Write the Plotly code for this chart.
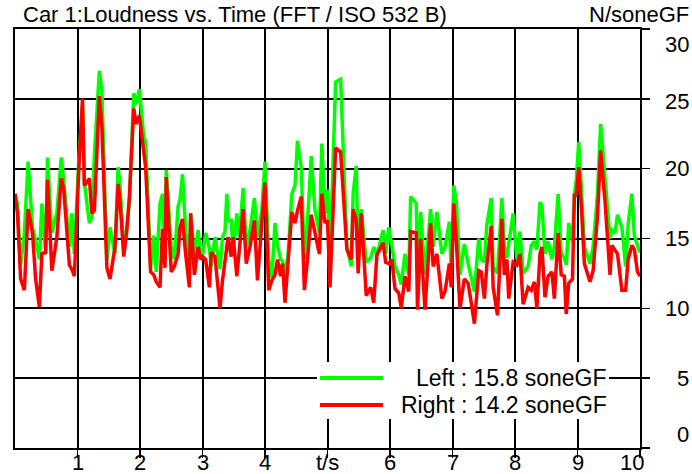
import plotly.graph_objects as go

# ---- data ----
t = [0.00,0.04,0.09,0.15,0.21,0.28,0.33,0.39,0.43,0.49,0.52,0.59,0.67,0.74,0.78,0.87,0.91,0.95,
     1.02,1.08,1.11,1.19,1.23,1.27,1.35,1.39,1.47,1.52,1.60,1.65,1.68,1.74,1.79,1.83,1.90,1.94,1.99,
     2.06,2.09,2.17,2.22,2.26,2.32,2.36,2.40,2.42,2.50,2.55,2.61,2.64,2.68,2.73,2.79,2.81,2.87,2.93,2.97,
     3.00,3.05,3.11,3.14,3.20,3.28,3.32,3.36,3.39,3.41,3.46,3.49,3.55,3.59,3.65,3.70,3.76,3.83,3.88,3.95,
     4.00,4.06,4.11,4.16,4.20,4.25,4.28,4.32,4.37,4.43,4.48,4.52,4.58,4.63,4.68,4.74,4.80,4.87,4.91,4.96,
     5.00,5.04,5.13,5.21,5.31,5.38,5.41,5.46,5.49,5.54,5.62,5.69,5.74,5.79,5.89,5.93,5.98,
     6.03,6.08,6.14,6.18,6.24,6.30,6.33,6.42,6.44,6.49,6.56,6.65,6.69,6.75,6.83,6.88,6.95,6.98,
     7.02,7.06,7.12,7.19,7.25,7.30,7.35,7.42,7.46,7.51,7.55,7.62,7.65,7.72,7.79,7.83,7.87,7.90,7.97,
     8.03,8.08,8.13,8.21,8.26,8.31,8.35,8.40,8.43,8.48,8.53,8.59,8.63,8.69,8.74,8.79,8.82,8.86,8.92,8.95,8.98,
     9.02,9.06,9.11,9.20,9.25,9.32,9.37,9.44,9.52,9.55,9.60,9.64,9.71,9.77,9.81,9.87,9.91,9.96,10.00]

left = [18.2,17.5,13.1,15.4,20.5,15.8,14.9,13.5,17.5,14.0,20.8,15.4,16.8,20.8,19.2,14.4,16.8,13.9,
        20.6,24.5,19.0,16.1,16.5,21.0,27.0,25.6,13.4,15.8,13.9,20.1,18.9,14.3,15.8,17.5,25.4,24.6,25.7,
        22.3,21.9,12.9,15.2,12.6,17.5,18.2,13.4,19.9,14.4,13.5,17.3,17.8,19.6,15.6,13.0,16.8,13.8,15.6,13.7,
        13.7,15.4,14.3,13.0,15.1,12.8,15.1,15.5,18.2,16.3,16.3,14.0,16.8,15.1,18.6,14.4,15.6,17.9,15.1,17.1,
        20.5,13.5,12.2,16.1,14.5,13.5,13.4,12.3,13.9,18.2,18.8,22.0,20.1,13.5,16.1,20.9,17.0,15.4,21.8,16.8,
        18.5,13.5,26.2,26.4,14.4,13.0,18.2,20.2,13.8,17.1,13.3,13.6,14.4,13.8,15.6,13.9,15.8,
        14.5,13.0,12.4,11.7,13.9,12.4,18.0,17.5,12.5,16.9,12.4,17.1,14.4,16.9,13.9,14.4,16.2,12.4,
        18.8,17.7,12.4,14.6,13.2,12.1,11.2,15.0,13.5,13.3,16.0,17.9,13.0,12.5,17.9,14.4,13.6,14.6,16.8,
        13.5,15.5,12.5,13.0,14.5,14.8,14.2,17.6,17.4,13.9,14.8,13.5,14.4,18.2,13.9,13.6,13.1,16.1,14.8,18.1,19.2,
        21.9,18.8,14.4,13.2,14.4,18.2,23.2,19.4,15.0,15.6,15.4,16.7,15.8,13.0,16.0,18.2,15.2,14.5,14.0]

right = [18.2,16.8,12.1,11.3,17.1,15.4,12.1,10.1,13.9,14.0,19.2,12.7,15.1,19.3,18.5,13.1,12.8,12.3,
         19.9,25.0,18.8,19.3,16.8,17.0,25.2,23.0,12.9,12.1,14.4,18.9,17.7,13.7,15.6,18.0,24.3,23.2,23.8,
         21.2,20.1,12.6,12.4,11.9,11.5,15.7,12.9,19.4,12.6,13.0,13.9,15.8,16.4,13.9,11.5,16.8,12.4,14.4,13.5,
         13.7,13.5,11.5,14.0,13.7,10.0,12.0,13.2,14.5,15.1,13.7,15.1,12.3,14.4,17.1,13.2,14.4,16.3,12.0,16.1,
         19.0,11.3,12.0,12.4,13.5,12.3,13.2,10.4,13.5,16.9,16.1,17.0,18.0,11.3,13.5,16.7,15.4,13.9,18.2,16.1,
         16.3,11.5,21.5,21.2,14.2,13.5,17.1,16.3,12.5,16.8,10.9,11.5,10.4,13.8,14.7,13.3,13.2,
         13.5,11.4,11.1,10.0,12.3,11.2,15.5,15.4,9.9,15.0,9.9,16.1,13.0,13.9,10.7,11.2,13.2,11.5,
         17.5,14.9,10.0,12.1,11.8,10.4,8.9,12.7,12.6,10.7,13.1,15.9,11.5,9.5,16.4,12.4,13.5,10.7,13.3,
         13.1,13.9,10.3,11.5,11.3,11.9,10.0,13.9,14.4,10.8,12.3,12.6,10.7,15.4,12.4,12.3,9.6,11.8,12.1,18.1,18.1,
         20.1,17.4,13.2,11.9,12.7,16.6,21.3,17.7,12.4,14.5,14.2,13.9,11.3,11.3,13.5,14.5,14.2,12.6,12.3]

x_tick_vals = [1, 2, 3, 4, 5, 6, 7, 8, 9, 10]
x_tick_text = ["1", "2", "3", "4", "t/s", "6", "7", "8", "9", "10"]
y_tick_vals = [0, 5, 10, 15, 20, 25, 30]
legend_text = ["Left : 15.8 soneGF", "Right : 14.2 soneGF"]
title_text = "Car 1:Loudness vs. Time (FFT / ISO 532 B)"
unit_text = "N/soneGF"

FONT = "Liberation Sans, Arial, sans-serif"
W, H = 692, 474
L, R, T, B = 15, 52, 29, 26
PW, PH = W - L - R, H - T - B

def px_x(p):  # pixel -> paper x
    return (p - L) / PW

def px_y(p):  # pixel -> paper y
    return (H - B - p) / PH

fig = go.Figure()
fig.add_trace(go.Scatter(x=t, y=left, mode="lines", line=dict(color="#00ff00", width=3.5),
                         name=legend_text[0], showlegend=False))
fig.add_trace(go.Scatter(x=t, y=right, mode="lines", line=dict(color="#ff0000", width=3.5),
                         name=legend_text[1], showlegend=False))

annotations = []
# x tick labels
for v, s in zip(x_tick_vals, x_tick_text):
    annotations.append(dict(x=v, xref="x", y=px_y(462), yref="paper", text=s, showarrow=False,
                            xanchor="right" if v == 10 else "center", xshift=6 if v == 10 else 0,
                            yanchor="middle", font=dict(family=FONT, size=22, color="black")))
# y tick labels (right side, right-aligned)
for v in y_tick_vals:
    shift = 0
    if v == 30:
        shift = -15
    elif v == 0:
        shift = 14
    elif v == 25:
        shift = -3
    annotations.append(dict(x=px_x(691), xref="paper", y=v, yref="y", text=str(v), showarrow=False,
                            xanchor="right", yanchor="middle", yshift=shift,
                            font=dict(family=FONT, size=22, color="black")))
# titles
annotations.append(dict(x=px_x(21), xref="paper", y=px_y(14), yref="paper", text=title_text,
                        showarrow=False, xanchor="left", yanchor="middle",
                        font=dict(family=FONT, size=22, color="black")))
annotations.append(dict(x=px_x(691), xref="paper", y=px_y(14), yref="paper", text=unit_text,
                        showarrow=False, xanchor="right", yanchor="middle",
                        font=dict(family=FONT, size=22, color="black")))
# legend text
for i, s in enumerate(legend_text):
    annotations.append(dict(x=px_x(609), xref="paper", y=px_y(378 + 27 * i), yref="paper", text=s,
                            showarrow=False, xanchor="right", yanchor="middle",
                            font=dict(family=FONT, size=23, color="black")))

shapes = [
    dict(type="rect", xref="paper", yref="paper", x0=px_x(317), x1=px_x(609), y0=px_y(419), y1=px_y(362),
         fillcolor="white", line=dict(width=0), layer="above"),
    dict(type="line", xref="paper", yref="paper", x0=px_x(320), x1=px_x(383), y0=px_y(378), y1=px_y(378),
         line=dict(color="#00ff00", width=4), layer="above"),
    dict(type="line", xref="paper", yref="paper", x0=px_x(320), x1=px_x(383), y0=px_y(405), y1=px_y(405),
         line=dict(color="#ff0000", width=4), layer="above"),
]

fig.update_layout(
    width=W, height=H,
    margin=dict(l=L, r=R, t=T, b=B, pad=0),
    paper_bgcolor="white", plot_bgcolor="white",
    showlegend=False,
    annotations=annotations, shapes=shapes,
    xaxis=dict(range=[0, 10], tickvals=x_tick_vals, showticklabels=False,
               ticks="outside", ticklen=8, tickwidth=1.5, tickcolor="black",
               showgrid=True, gridcolor="black", gridwidth=2, zeroline=False,
               showline=True, linecolor="black", linewidth=2, mirror=True),
    yaxis=dict(range=[0, 30], tickvals=y_tick_vals, showticklabels=False, side="right",
               ticks="outside", ticklen=8, tickwidth=1.5, tickcolor="black",
               showgrid=True, gridcolor="black", gridwidth=2, zeroline=False,
               showline=True, linecolor="black", linewidth=2, mirror=True),
)

fig.write_html("out.html",
               config=dict(displayModeBar=False, staticPlot=True),
               post_script="document.body.style.margin='0';document.body.style.padding='0';")
